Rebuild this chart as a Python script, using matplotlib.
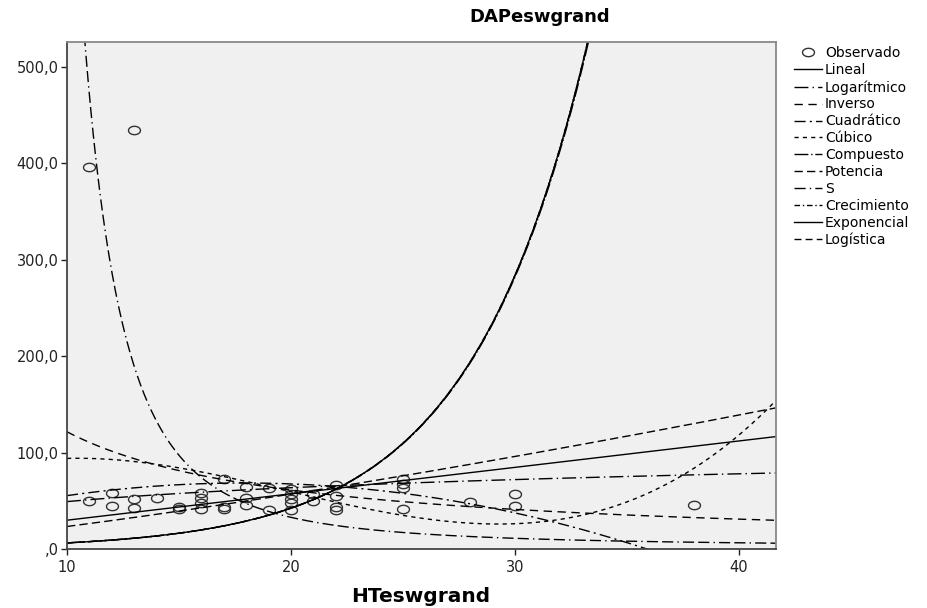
import numpy as np
import matplotlib
matplotlib.use("Agg")
import matplotlib.pyplot as plt
from matplotlib.path import Path

plt.rcParams['font.family'] = ['DejaVu Sans']

# observados
ht = [11, 11, 12, 12, 13, 13, 13, 14, 15, 15, 16, 16, 16, 16, 17, 17, 17,
      18, 18, 18, 19, 19, 20, 20, 20, 20, 20, 21, 21, 22, 22, 22, 22,
      25, 25, 25, 25, 28, 30, 30, 38]
dap = [396, 50, 58.5, 45, 435, 51.5, 43, 53, 44, 41, 58.5, 53, 48, 42, 73, 44, 41,
       64, 52.5, 46, 63.5, 40, 62, 57, 52, 47.5, 40, 57, 50, 66, 55, 44, 40.5,
       73, 67, 63, 42, 49, 57, 45, 46]

# coeficientes de los modelos (b0, b1, ...)
lineal = [2.5, 2.74]
logaritmico = [1.31, 20.8]
inverso = [0.8, 1208.0]
cuadratico = [1.04, 7.545, -0.211]
cubico = [6.66, 18.952, -1.2277, 0.020591]
compuesto = [0.95, 1.209]
potencia = [1.21, 1.286]
s_mod = [0.238, 65.08]
crecimiento = [-0.051, 0.19]
exponencial = [0.95, 0.19]
logistica = [1.053, 0.827]

yticks = [0, 100, 200, 300, 400, 500]
ytick_labels = [",0", "100,0", "200,0", "300,0", "400,0", "500,0"]
xticks = [10, 20, 30, 40]

x = np.linspace(10, 41.65, 600)

curvas = [
    ("Lineal", lineal[0] + lineal[1] * x, '-'),
    ("Logarítmico", logaritmico[0] + logaritmico[1] * np.log(x), (0, (10, 3, 1, 3))),
    ("Inverso", inverso[0] + inverso[1] / x, (0, (6, 4))),
    ("Cuadrático", np.polyval(cuadratico[::-1], x), (0, (8, 3, 1.5, 3))),
    ("Cúbico", np.polyval(cubico[::-1], x), (0, (3, 3))),
    ("Compuesto", compuesto[0] * compuesto[1] ** x, (0, (10, 2, 1, 2))),
    ("Potencia", potencia[0] * x ** potencia[1], (0, (6, 3))),
    ("S", np.exp(s_mod[0] + s_mod[1] / x), (0, (8, 3, 1, 3, 8, 3))),
    ("Crecimiento", np.exp(crecimiento[0] + crecimiento[1] * x), (0, (4, 2, 1, 2))),
    ("Exponencial", exponencial[0] * np.exp(exponencial[1] * x), '-'),
    ("Logística", 1.0 / (logistica[0] * logistica[1] ** x), (0, (5, 3))),
]

t = np.linspace(0, 2 * np.pi, 60)
elipse = Path(np.column_stack([np.cos(t), 0.7 * np.sin(t)]))

fig = plt.figure(figsize=(9.27, 6.08), dpi=100)
ax = fig.add_axes([0.0723, 0.097, 0.7647, 0.834])
ax.set_facecolor('#f0f0f0')

handles = []
obs, = ax.plot(ht, dap, linestyle='none', marker=elipse, markersize=8.6,
               markerfacecolor='none', markeredgecolor='#333333',
               markeredgewidth=1.0, label='Observado')
handles.append(obs)
for nombre, y, ls in curvas:
    ln, = ax.plot(x, y, color='black', lw=1.0, linestyle=ls, label=nombre)
    handles.append(ln)

ax.set_xlim(10, 41.65)
ax.set_ylim(0, 526)
ax.set_yticks(yticks)
ax.set_yticklabels(ytick_labels)
ax.set_xticks(xticks)
ax.tick_params(axis='both', direction='out', length=4, width=1,
               labelsize=10.5, colors='#222222')
ax.tick_params(axis='x', pad=4)
ax.tick_params(axis='y', pad=2)

for lado in ['left', 'bottom']:
    ax.spines[lado].set_color('#444444')
    ax.spines[lado].set_linewidth(1.3)
for lado in ['top', 'right']:
    ax.spines[lado].set_color('#888888')
    ax.spines[lado].set_linewidth(1.3)

fig.text(0.582, 0.972, 'DAPeswgrand', ha='center', va='center',
         fontsize=13, fontweight='bold')
fig.text(0.454, 0.019, 'HTeswgrand', ha='center', va='center',
         fontsize=14.5, fontweight='bold')

ax.legend(handles=handles, loc='upper left', bbox_to_anchor=(0.857, 0.924),
          bbox_transform=fig.transFigure, frameon=False, fontsize=10,
          handlelength=2.0, handletextpad=0.2, labelspacing=0.21,
          borderpad=0, borderaxespad=0)

fig.savefig('out.png', dpi=100)
